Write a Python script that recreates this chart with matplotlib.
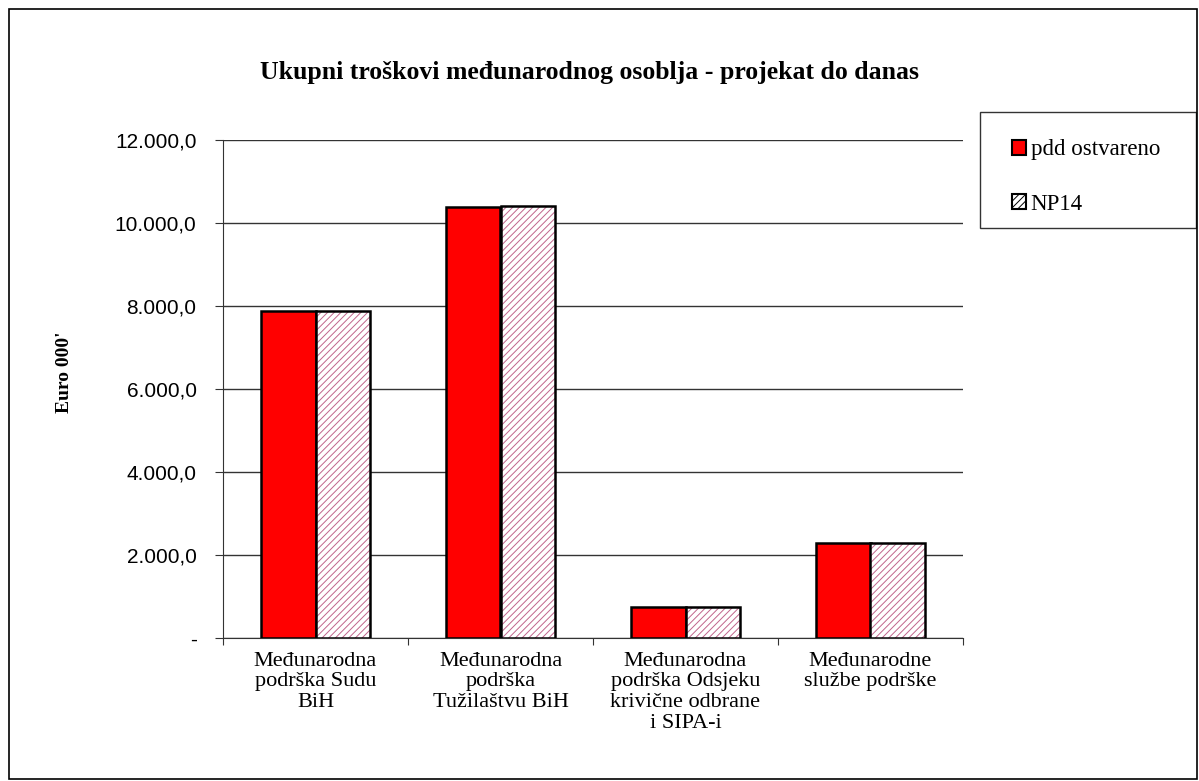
import numpy as np
import matplotlib.pyplot as plt
from matplotlib.patches import Rectangle, Patch
from matplotlib.ticker import FixedLocator, FixedFormatter

# data (Euro 000')
categories = ['Međunarodna\npodrška Sudu\nBiH',
              'Međunarodna\npodrška\nTužilaštvu BiH',
              'Međunarodna\npodrška Odsjeku\nkrivične odbrane\ni SIPA-i',
              'Međunarodne\nslužbe podrške']
pdd_ostvareno = [7880, 10390, 750, 2290]
np14 = [7880, 10410, 750, 2290]
yticks = [0, 2000, 4000, 6000, 8000, 10000, 12000]
yticklabels = ['-', '2.000,0', '4.000,0', '6.000,0', '8.000,0', '10.000,0', '12.000,0']

serif = 'Liberation Serif'
sans = 'Liberation Sans'
hatch_col = '#c0658c'

fig = plt.figure(figsize=(11.99, 7.81), dpi=100)
ax = fig.add_axes([223/1199, 1-638/781, 740/1199, 498/781])

x = np.arange(len(categories))
w = 0.292
ax.bar(x - w/2, pdd_ostvareno, w, color='#ff0000', edgecolor='black', linewidth=1.8, zorder=3)
# hatched bars: hatch drawn in colour, then black outline on top
plt.rcParams['hatch.linewidth'] = 0.7
ax.bar(x + w/2, np14, w, color='white', edgecolor=hatch_col, hatch='/////', linewidth=0, zorder=3)
ax.bar(x + w/2, np14, w, fill=False, edgecolor='black', linewidth=1.8, zorder=4)

ax.set_xlim(-0.5, len(categories) - 0.5)
ax.set_ylim(0, 12000)
ax.yaxis.set_major_locator(FixedLocator(yticks))
ax.yaxis.set_major_formatter(FixedFormatter(yticklabels))
for t in ax.get_yticklabels():
    t.set_fontfamily(sans)
    t.set_fontsize(15)
ax.grid(axis='y', color='#333333', linewidth=1.0, zorder=0)

ax.set_xticks(np.arange(len(categories) + 1) - 0.5)
ax.set_xticklabels([])
ax.tick_params(axis='x', direction='out', length=5, color='#333333')
ax.tick_params(axis='y', direction='out', length=6, color='#333333', pad=13)
for i, c in enumerate(categories):
    ax.text(i, -330, c, ha='center', va='top', fontfamily=serif, fontsize=16,
            linespacing=1.12)

for s in ['top', 'right']:
    ax.spines[s].set_visible(False)
ax.spines['left'].set_color('#333333')
ax.spines['bottom'].set_color('#333333')

ax.set_ylabel("Euro 000'", fontfamily=serif, fontweight='bold', fontsize=14)
ax.yaxis.set_label_coords((73 - 223)/740, (638 - 372)/498)

fig.text(590/1199, 1-72/781, 'Ukupni troškovi međunarodnog osoblja - projekat do danas',
         ha='center', va='center', fontfamily=serif, fontweight='bold', fontsize=18.5)

# legend box
fig.patches.append(Rectangle((980/1199, 1-228/781), 216/1199, 116/781, transform=fig.transFigure,
                             fill=False, edgecolor='#333333', linewidth=1.0))
h1 = Patch(facecolor='#ff0000', edgecolor='black', linewidth=1.5)
h2 = Patch(facecolor='white', edgecolor='black', hatch='/////', linewidth=1.5)
fig.legend([h1, h2], ['pdd ostvareno', 'NP14'], loc='upper left',
           bbox_to_anchor=(1001/1199, 1-128/781), frameon=False,
           prop={'family': serif, 'size': 16.5}, handlelength=0.6, handleheight=0.6,
           handletextpad=0.2, labelspacing=1.45, borderpad=0)

# outer border
fig.patches.append(Rectangle((9/1199, 2/781), 1188/1199, 770/781, transform=fig.transFigure,
                             fill=False, edgecolor='black', linewidth=1.2))

fig.savefig('out.png', dpi=100)
